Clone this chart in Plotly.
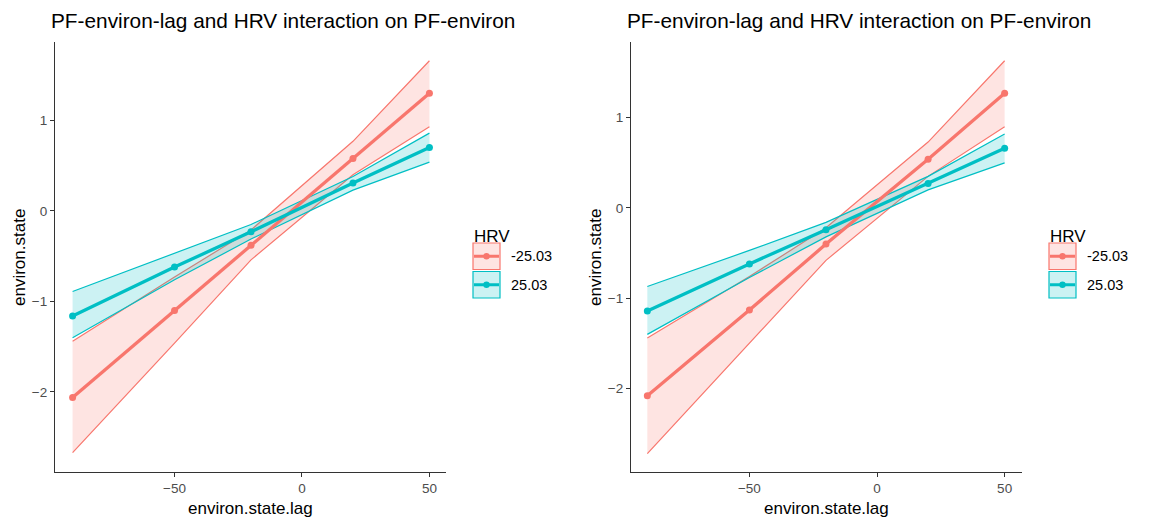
import plotly.graph_objects as go

W, H = 1162, 523

# ---- data ----
x_lag = [-90, -50, -20, 20, 50]
hrv_levels = ["-25.03", "25.03"]

# left panel
red_mean_L = [-2.06, -1.10, -0.38, 0.58, 1.30]
red_low_L = [-2.67, -1.46, -0.54, 0.40, 0.93]
red_up_L = [-1.44, -0.73, -0.21, 0.77, 1.66]
teal_mean_L = [-1.16, -0.62, -0.23, 0.31, 0.70]
teal_low_L = [-1.40, -0.76, -0.31, 0.23, 0.54]
teal_up_L = [-0.89, -0.47, -0.15, 0.38, 0.86]

# right panel
red_mean_R = [-2.08, -1.13, -0.40, 0.54, 1.27]
red_low_R = [-2.72, -1.50, -0.58, 0.35, 0.90]
red_up_R = [-1.44, -0.76, -0.22, 0.73, 1.63]
teal_mean_R = [-1.14, -0.62, -0.24, 0.27, 0.66]
teal_low_R = [-1.40, -0.77, -0.32, 0.20, 0.50]
teal_up_R = [-0.87, -0.47, -0.16, 0.35, 0.82]

x_ticks = [-50, 0, 50]
y_ticks = [-2, -1, 0, 1]
title_text = "PF-environ-lag and HRV interaction on PF-environ"
x_title = "environ.state.lag"
y_title = "environ.state"
legend_title = "HRV"

RED = "#F8766D"
TEAL = "#00BFC4"
RED_FILL = "rgba(248,118,109,0.2)"
TEAL_FILL = "rgba(0,191,196,0.2)"
FONT = "Liberation Sans, Arial, Helvetica, sans-serif"

fig = go.Figure()

panels = [
    ("x", "y", [(red_mean_L, red_low_L, red_up_L, RED, RED_FILL),
                (teal_mean_L, teal_low_L, teal_up_L, TEAL, TEAL_FILL)]),
    ("x2", "y2", [(red_mean_R, red_low_R, red_up_R, RED, RED_FILL),
                  (teal_mean_R, teal_low_R, teal_up_R, TEAL, TEAL_FILL)]),
]

for xa, ya, groups in panels:
    # ribbons
    for mean, low, up, col, fill in groups:
        fig.add_trace(go.Scatter(x=x_lag, y=low, xaxis=xa, yaxis=ya, mode="lines",
                                 line=dict(color=col, width=1.2), showlegend=False,
                                 hoverinfo="skip"))
        fig.add_trace(go.Scatter(x=x_lag, y=up, xaxis=xa, yaxis=ya, mode="lines",
                                 line=dict(color=col, width=1.2), fill="tonexty",
                                 fillcolor=fill, showlegend=False, hoverinfo="skip"))
    # lines + points
    for mean, low, up, col, fill in groups:
        fig.add_trace(go.Scatter(x=x_lag, y=mean, xaxis=xa, yaxis=ya, mode="lines+markers",
                                 line=dict(color=col, width=3.3),
                                 marker=dict(color=col, size=7), showlegend=False))

def px_x(p):
    return p / W

def px_y(p):
    return 1 - p / H

axis_common = dict(
    showgrid=False, zeroline=False, showline=True, linecolor="#333333", linewidth=1.1,
    ticks="outside", ticklen=4, tickwidth=1, tickcolor="#333333",
    tickfont=dict(family=FONT, size=13.5, color="#4D4D4D"),
)

fig.update_layout(
    width=W, height=H,
    margin=dict(l=0, r=0, t=0, b=0),
    paper_bgcolor="white", plot_bgcolor="white",
    font=dict(family=FONT),
    xaxis=dict(domain=[px_x(55), px_x(446)], range=[-96.9, 56.5], tickvals=x_ticks,
               anchor="y", **axis_common),
    yaxis=dict(domain=[px_y(472), px_y(42)], range=[-2.884, 1.867], tickvals=y_ticks,
               anchor="x", **axis_common),
    xaxis2=dict(domain=[px_x(631), px_x(1022)], range=[-96.4, 56.8], tickvals=x_ticks,
                anchor="y2", **axis_common),
    yaxis2=dict(domain=[px_y(472), px_y(42)], range=[-2.924, 1.838], tickvals=y_ticks,
                anchor="x2", **axis_common),
    showlegend=False,
)

shapes = []
annotations = []

for left, xa_c, leg_x, lab_x in [(49, 250.5, 473, 509), (625, 826.5, 1049, 1085)]:
    annotations.append(dict(text=title_text, x=px_x(left), y=px_y(21), xref="paper", yref="paper",
                            xanchor="left", yanchor="middle", showarrow=False,
                            font=dict(family=FONT, size=20.8, color="black")))
    annotations.append(dict(text=x_title, x=px_x(xa_c), y=px_y(508), xref="paper", yref="paper",
                            xanchor="center", yanchor="middle", showarrow=False,
                            font=dict(family=FONT, size=17, color="black")))
    annotations.append(dict(text=y_title, x=px_x(left - 30), y=px_y(258), xref="paper", yref="paper",
                            xanchor="center", yanchor="middle", showarrow=False, textangle=-90,
                            font=dict(family=FONT, size=17, color="black")))
    annotations.append(dict(text=legend_title, x=px_x(leg_x - 1), y=px_y(236), xref="paper", yref="paper",
                            xanchor="left", yanchor="middle", showarrow=False,
                            font=dict(family=FONT, size=17, color="black")))
    for i, (lvl, col, fill) in enumerate(zip(hrv_levels, [RED, TEAL], [RED_FILL, TEAL_FILL])):
        y0 = 243 + i * 28.5
        y1 = y0 + 26.5
        ym = (y0 + y1) / 2
        shapes.append(dict(type="rect", xref="paper", yref="paper",
                           x0=px_x(leg_x), x1=px_x(leg_x + 27), y0=px_y(y1), y1=px_y(y0),
                           fillcolor=fill, line=dict(color=col, width=1.2)))
        shapes.append(dict(type="line", xref="paper", yref="paper",
                           x0=px_x(leg_x + 1), x1=px_x(leg_x + 26), y0=px_y(ym), y1=px_y(ym),
                           line=dict(color=col, width=3)))
        shapes.append(dict(type="circle", xref="paper", yref="paper",
                           x0=px_x(leg_x + 13.5 - 3.2), x1=px_x(leg_x + 13.5 + 3.2),
                           y0=px_y(ym + 3.2), y1=px_y(ym - 3.2),
                           fillcolor=col, line=dict(color=col, width=0)))
        annotations.append(dict(text=lvl, x=px_x(lab_x), y=px_y(ym), xref="paper", yref="paper",
                                xanchor="left", yanchor="middle", showarrow=False,
                                font=dict(family=FONT, size=14.5, color="black")))

fig.update_layout(shapes=shapes, annotations=annotations)
fig.write_html("out.html")
